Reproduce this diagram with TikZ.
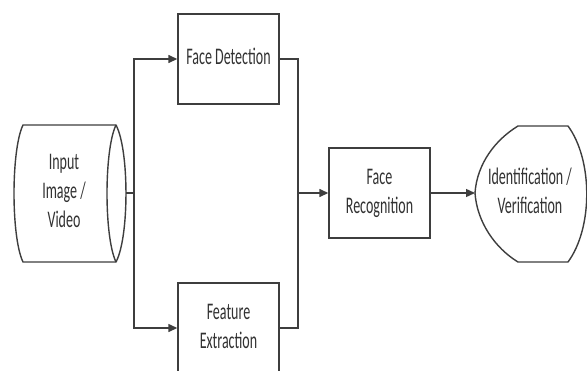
\documentclass[tikz,border=0pt]{standalone}
\usepackage{graphicx}
\usepackage{fontspec}
\setmainfont{Carlito}
\usetikzlibrary{arrows.meta}
\definecolor{ln}{RGB}{62,62,62}
\definecolor{tx}{RGB}{50,50,50}
\newcommand{\talltext}[1]{\scalebox{1}[1.7]{\fontsize{14}{17}\selectfont\begin{tabular}{@{}c@{}}#1\end{tabular}}}
\tikzset{
  line/.style={draw=ln, line width=1.4pt},
  arr/.style={line, -{Triangle[length=9pt,width=8pt]}},
  box/.style={line, rectangle, minimum width=101pt, minimum height=90pt, inner sep=0pt, text=tx},
  lbl/.style={inner sep=0pt, text=tx}
}
\begin{document}
\begin{tikzpicture}[x=1pt,y=-1pt]
\useasboundingbox (0,0) rectangle (587,370);
\clip (0,0) rectangle (587,370);
\fill[white] (0,0) rectangle (587,370);
% input (stored data shape)
\draw[line, line join=round] (23,125) -- (116,125)
  .. controls (129.3,150) and (129.3,237) .. (116,262)
  -- (23,262) .. controls (11,237) and (11,150) .. (23,125) -- cycle;
\draw[line] (116,125) .. controls (104,150) and (104,237) .. (116,262);
\node[lbl] (intext) at (64,193) {\talltext{Input\\Image /\\Video}};
% output (display shape)
\draw[line, line join=round] (518,126) -- (568,126)
  .. controls (593,160) and (593,228) .. (568,262)
  -- (518,262) .. controls (495,248) and (477,222) .. (475,193)
  .. controls (477,164) and (495,140) .. (518,126) -- cycle;
\node[lbl] (outtext) at (530,193) {\talltext{Identification /\\Verification}};
% boxes
\node[box] (fd) at (228.5,59) {\talltext{Face Detection}};
\node[box] (fe) at (228.5,328) {\talltext{Feature\\Extraction}};
\node[box] (fr) at (379.5,193) {\talltext{Face\\Recognition}};
% connectors
\coordinate (in) at (126,193);
\coordinate (j1) at (134,193);
\coordinate (j2) at (298,193);
\coordinate (out) at (475,193);
\draw[line] (in) -- (j1);
\draw[arr] (j1) |- (fd.west);
\draw[arr] (j1) |- (fe.west);
\draw[line] (fd.east) -| (j2);
\draw[line] (fe.east) -| (j2);
\draw[arr] (j2) -- (fr.west);
\draw[arr] (fr.east) -- (out);
\end{tikzpicture}
\end{document}
